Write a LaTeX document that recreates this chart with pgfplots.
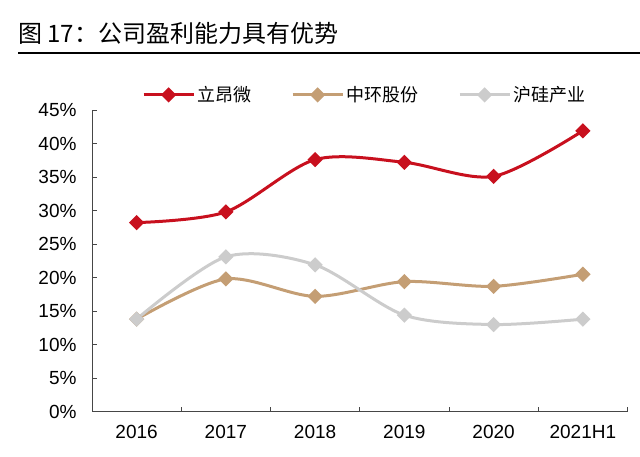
\documentclass[border=0pt]{standalone}
\usepackage{pgfplots}
\pgfplotsset{compat=1.18}
\usepackage{fontspec}
\setmainfont{Liberation Sans}
\newfontfamily\cjk{Noto Sans CJK SC}
\definecolor{cred}{RGB}{200,16,30}
\definecolor{ctan}{RGB}{196,158,116}
\definecolor{cgray}{RGB}{204,204,204}
\definecolor{caxis}{RGB}{70,70,70}
\begin{document}
\begin{tikzpicture}[x=1pt,y=1pt]
\useasboundingbox (0,0) rectangle (640,457);
\node[anchor=west, inner sep=0, font=\cjk\fontsize{24}{28}\selectfont] at (18,424) {图 17：公司盈利能力具有优势};
\draw[line width=1.5pt] (18,404) -- (640,404);
\begin{axis}[
  at={(92pt,45.3pt)}, anchor=south west,
  scale only axis, width=535.5pt, height=301.7pt,
  xmin=-0.5, xmax=5.5, ymin=0, ymax=45,
  axis lines*=left,
  axis line style={caxis, line width=0.8pt},
  xtick={0,...,5},
  xticklabels={2016,2017,2018,2019,2020,2021H1},
  minor xtick={0.5,1.5,2.5,3.5,4.5,5.5},
  major x tick style={draw=none},
  ytick={0,5,...,45},
  yticklabels={0\%,5\%,10\%,15\%,20\%,25\%,30\%,35\%,40\%,45\%},
  tick style={caxis, line width=0.8pt},
  major tick length=5pt, minor tick length=5pt,
  tick align=inside,
  ticklabel style={font=\fontsize{19}{22}\selectfont},
  yticklabel style={xshift=-12pt},
  xticklabel style={yshift=-10pt},
  clip=false,
  legend style={at={(0.509,1.05)}, anchor=center, draw=none, fill=none,
    legend columns=3, font=\cjk\fontsize{18}{21}\selectfont,
    /tikz/every even column/.append style={column sep=38pt}},
  legend image code/.code={\draw[mark repeat=2,mark phase=2,#1] plot coordinates {(0pt,0pt) (25pt,0pt) (50pt,0pt)};},
]
\addplot[cred, line width=3pt, smooth, tension=0.5, mark=square*, mark size=3.9pt, mark options={rotate=45, solid}]
  coordinates {(0,28.2) (1,29.8) (2,37.6) (3,37.2) (4,35.1) (5,41.9)};
\addlegendentry{立昂微}
\addplot[ctan, line width=3pt, smooth, tension=0.5, mark=square*, mark size=3.9pt, mark options={rotate=45, solid}]
  coordinates {(0,13.8) (1,19.8) (2,17.2) (3,19.4) (4,18.7) (5,20.5)};
\addlegendentry{中环股份}
\addplot[cgray, line width=3pt, smooth, tension=0.5, mark=square*, mark size=3.9pt, mark options={rotate=45, solid}]
  coordinates {(0,13.8) (1,23.1) (2,21.9) (3,14.4) (4,13.0) (5,13.8)};
\addlegendentry{沪硅产业}
\end{axis}
\end{tikzpicture}
\end{document}
